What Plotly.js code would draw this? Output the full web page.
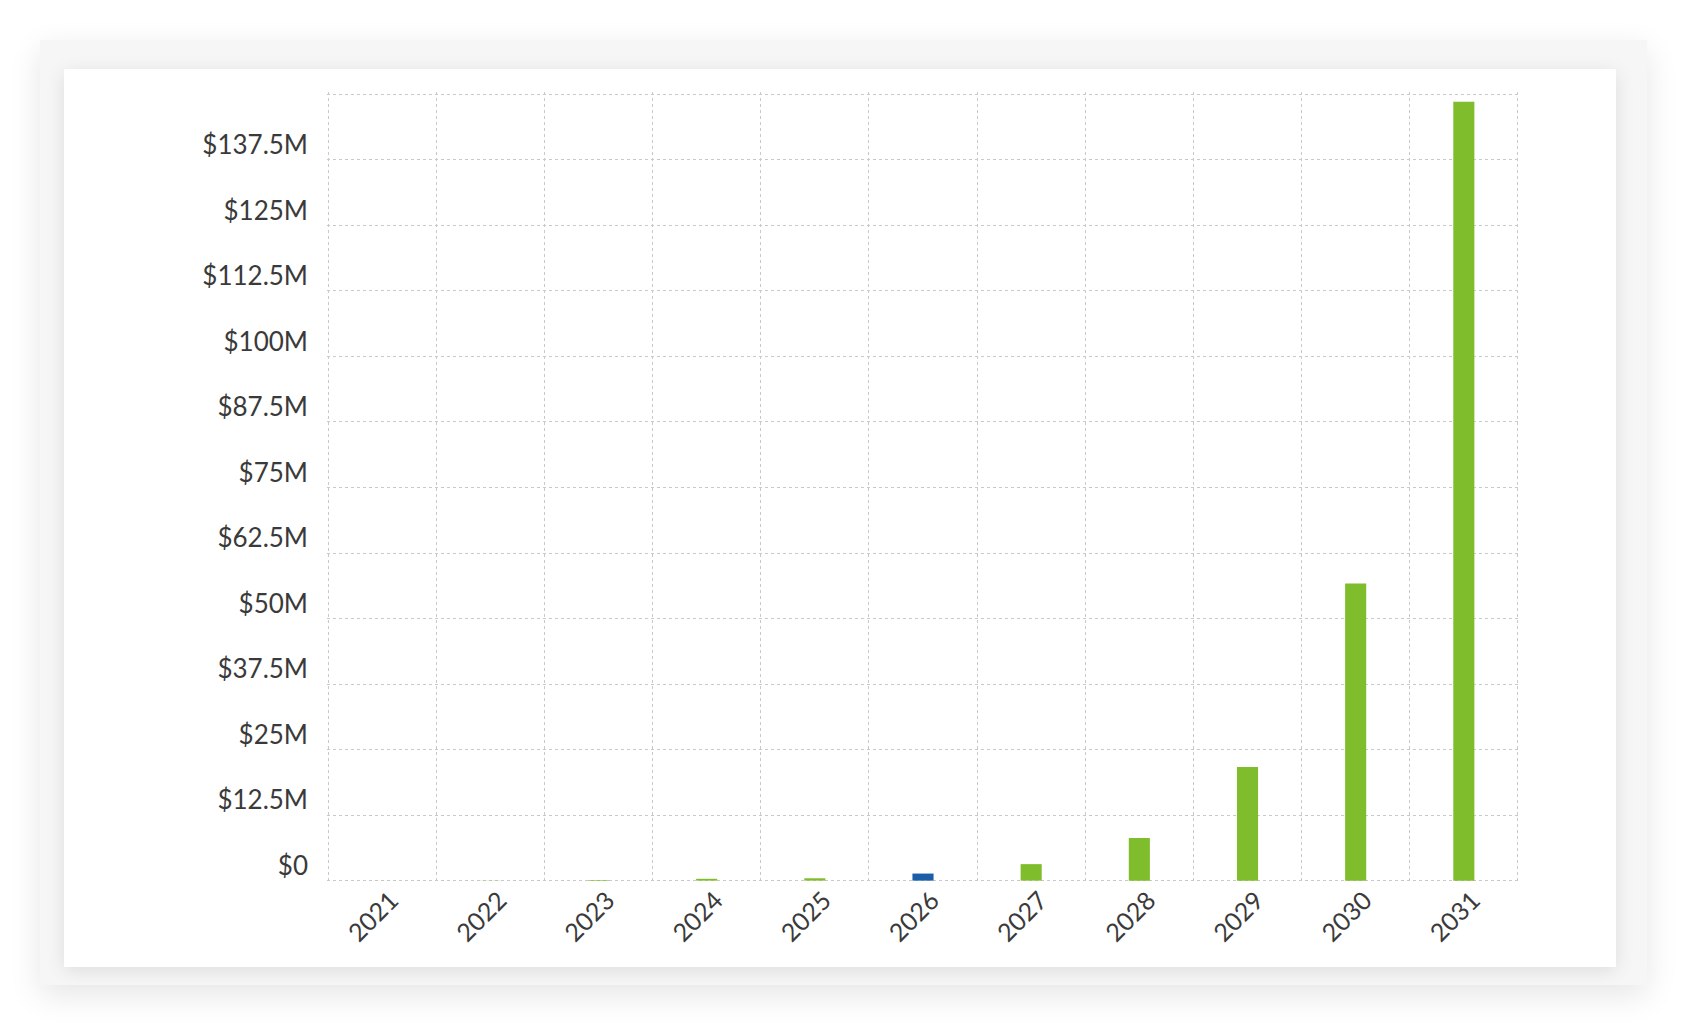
<!DOCTYPE html>
<html>
<head>
<meta charset="utf-8">
<script src="https://cdn.plot.ly/plotly-3.0.1.min.js"></script>
<style>
  html, body { margin: 0; padding: 0; background: #ffffff; width: 1688px; height: 1026px; overflow: hidden; }
  .outer { position: absolute; left: 40px; top: 40px; width: 1607px; height: 945px; background: #f6f6f6;
           box-shadow: 0 10px 30px rgba(0,0,0,0.10); }
  .inner { position: absolute; left: 64px; top: 69px; width: 1552px; height: 898px; background: #ffffff;
           box-shadow: 0 4px 18px rgba(0,0,0,0.10); }
  #chart { position: absolute; left: 0; top: 0; width: 1688px; height: 1026px; }
</style>
</head>
<body>
<div class="outer"></div>
<div class="inner"></div>
<div id="chart"></div>
<script>
// ---- data ----
const years = ['2021','2022','2023','2024','2025','2026','2027','2028','2029','2030','2031'];
const valuesM = [0.01, 0.03, 0.12, 0.35, 0.45, 1.35, 3.15, 8.15, 21.7, 56.7, 148.6];
const highlightYear = '2026';
const yTickVals = [0, 12.5, 25, 37.5, 50, 62.5, 75, 87.5, 100, 112.5, 125, 137.5, 150];
const yTickText = ['$0','$12.5M','$25M','$37.5M','$50M','$62.5M','$75M','$87.5M','$100M','$112.5M','$125M','$137.5M',''];

// ---- chart ----
const GREEN = '#80bd2d';
const BLUE = '#1a5ea8';
const colors = years.map(y => y === highlightYear ? BLUE : GREEN);

const trace = {
  type: 'bar',
  x: years,
  y: valuesM,
  marker: { color: colors, line: { width: 0 } },
  hoverinfo: 'x+y'
};

const fontFam = 'Lato, "Open Sans", sans-serif';
const layout = {
  width: 1688,
  height: 1026,
  paper_bgcolor: 'rgba(0,0,0,0)',
  plot_bgcolor: 'rgba(0,0,0,0)',
  margin: { l: 327, r: 169, t: 92, b: 143 },
  showlegend: false,
  bargap: 0.805,
  font: { family: fontFam, color: '#3a3a3a', size: 24 },
  xaxis: {
    type: 'category',
    range: [-0.51, years.length - 0.49],
    tickson: 'boundaries',
    showgrid: true,
    gridcolor: '#c9c9c9',
    griddash: 'dot',
    gridwidth: 1,
    showline: false,
    zeroline: false,
    ticks: '',
    tickangle: -45,
    tickfont: { family: fontFam, size: 25, color: '#3a3a3a' },
    ticklabelshift: 9,
    ticklabelstandoff: -3,
    fixedrange: true
  },
  yaxis: {
    range: [-0.45, 150.45],
    tickmode: 'array',
    tickvals: yTickVals,
    ticktext: yTickText,
    showgrid: true,
    gridcolor: '#c9c9c9',
    griddash: 'dot',
    gridwidth: 1,
    zeroline: false,
    showline: false,
    ticks: '',
    tickfont: { family: fontFam, size: 26, color: '#3a3a3a' },
    ticklabelshift: -15,
    ticklabelstandoff: 18,
    fixedrange: true
  }
};

Plotly.newPlot('chart', [trace], layout, { displayModeBar: false, staticPlot: true });
</script>
</body>
</html>
